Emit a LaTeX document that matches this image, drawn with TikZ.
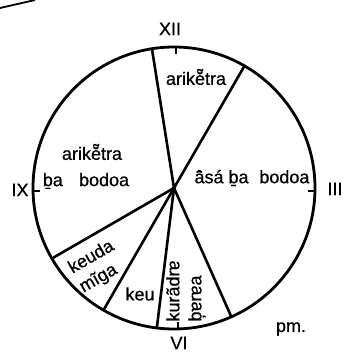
\documentclass[tikz,border=0pt]{standalone}
\usepackage{fontspec}
\setmainfont{Liberation Sans}[FakeBold=0.6]
\usetikzlibrary{positioning}

\begin{document}
\begin{tikzpicture}[
    x=1pt, y=1pt,
    lbl/.style={inner sep=0pt, font=\fontsize{18}{22}\selectfont},
    spoke/.style={line width=2.6pt, line cap=round}
]
\useasboundingbox (-174,-171) rectangle (174,188);

% clock face
\coordinate (hub) at (0,0);
\draw[line width=2.8pt] (hub) circle (141);
\draw[line width=1.8pt] (-174,180) -- (-139,188);

% hour ticks
\draw[line width=1.8pt] (2,141) -- (2,134);
\draw[line width=1.8pt] (141,-3) -- (134,-3);
\draw[line width=1.8pt] (-141,-3) -- (-134,-3);
\draw[line width=1.8pt] (4,-141) -- (4,-134);

% sectors
\draw[spoke] (hub) -- (99:141);
\draw[spoke] (hub) -- (60:141);
\draw[spoke] (hub) -- (210:141);
\draw[spoke] (hub) -- (240:141);
\draw[spoke] (hub) -- (263:141);
\draw[spoke] (hub) -- (294:141);

% hours
\node[lbl] (xii) at (-4,159) {XII};
\node[lbl] (iii) at (161,-1) {III};
\node[lbl] (ix) at (-154,-2) {IX};
\node[lbl] (vi) at (5,-155) {VI};
\node[lbl] (pm) at (117,-141) {pm.};

% names of the periods
\node[lbl] (arikTop) at (22,111) {arikĕ̃tra};
\node[lbl] (arikLeft) at (-82,36) {arikĕ̃tra};
\node[lbl] (baLeft) at (-88,7) {ḇa\hspace{0.9em}bodoa};
\node[lbl] (asa) at (78,10) {ā̂sá ḇa\hspace{0.6em}bodoa};
\node[lbl, align=left, rotate=30] (keuda) at (-77,-79) {keuda\\mĩga};
\node[lbl] (keu) at (-34,-106) {keu};
\node[lbl, align=left, rotate=90] (kura) at (12,-103) {kurãdrɐ\\b̦ɐrɐa};

\end{tikzpicture}
\end{document}
